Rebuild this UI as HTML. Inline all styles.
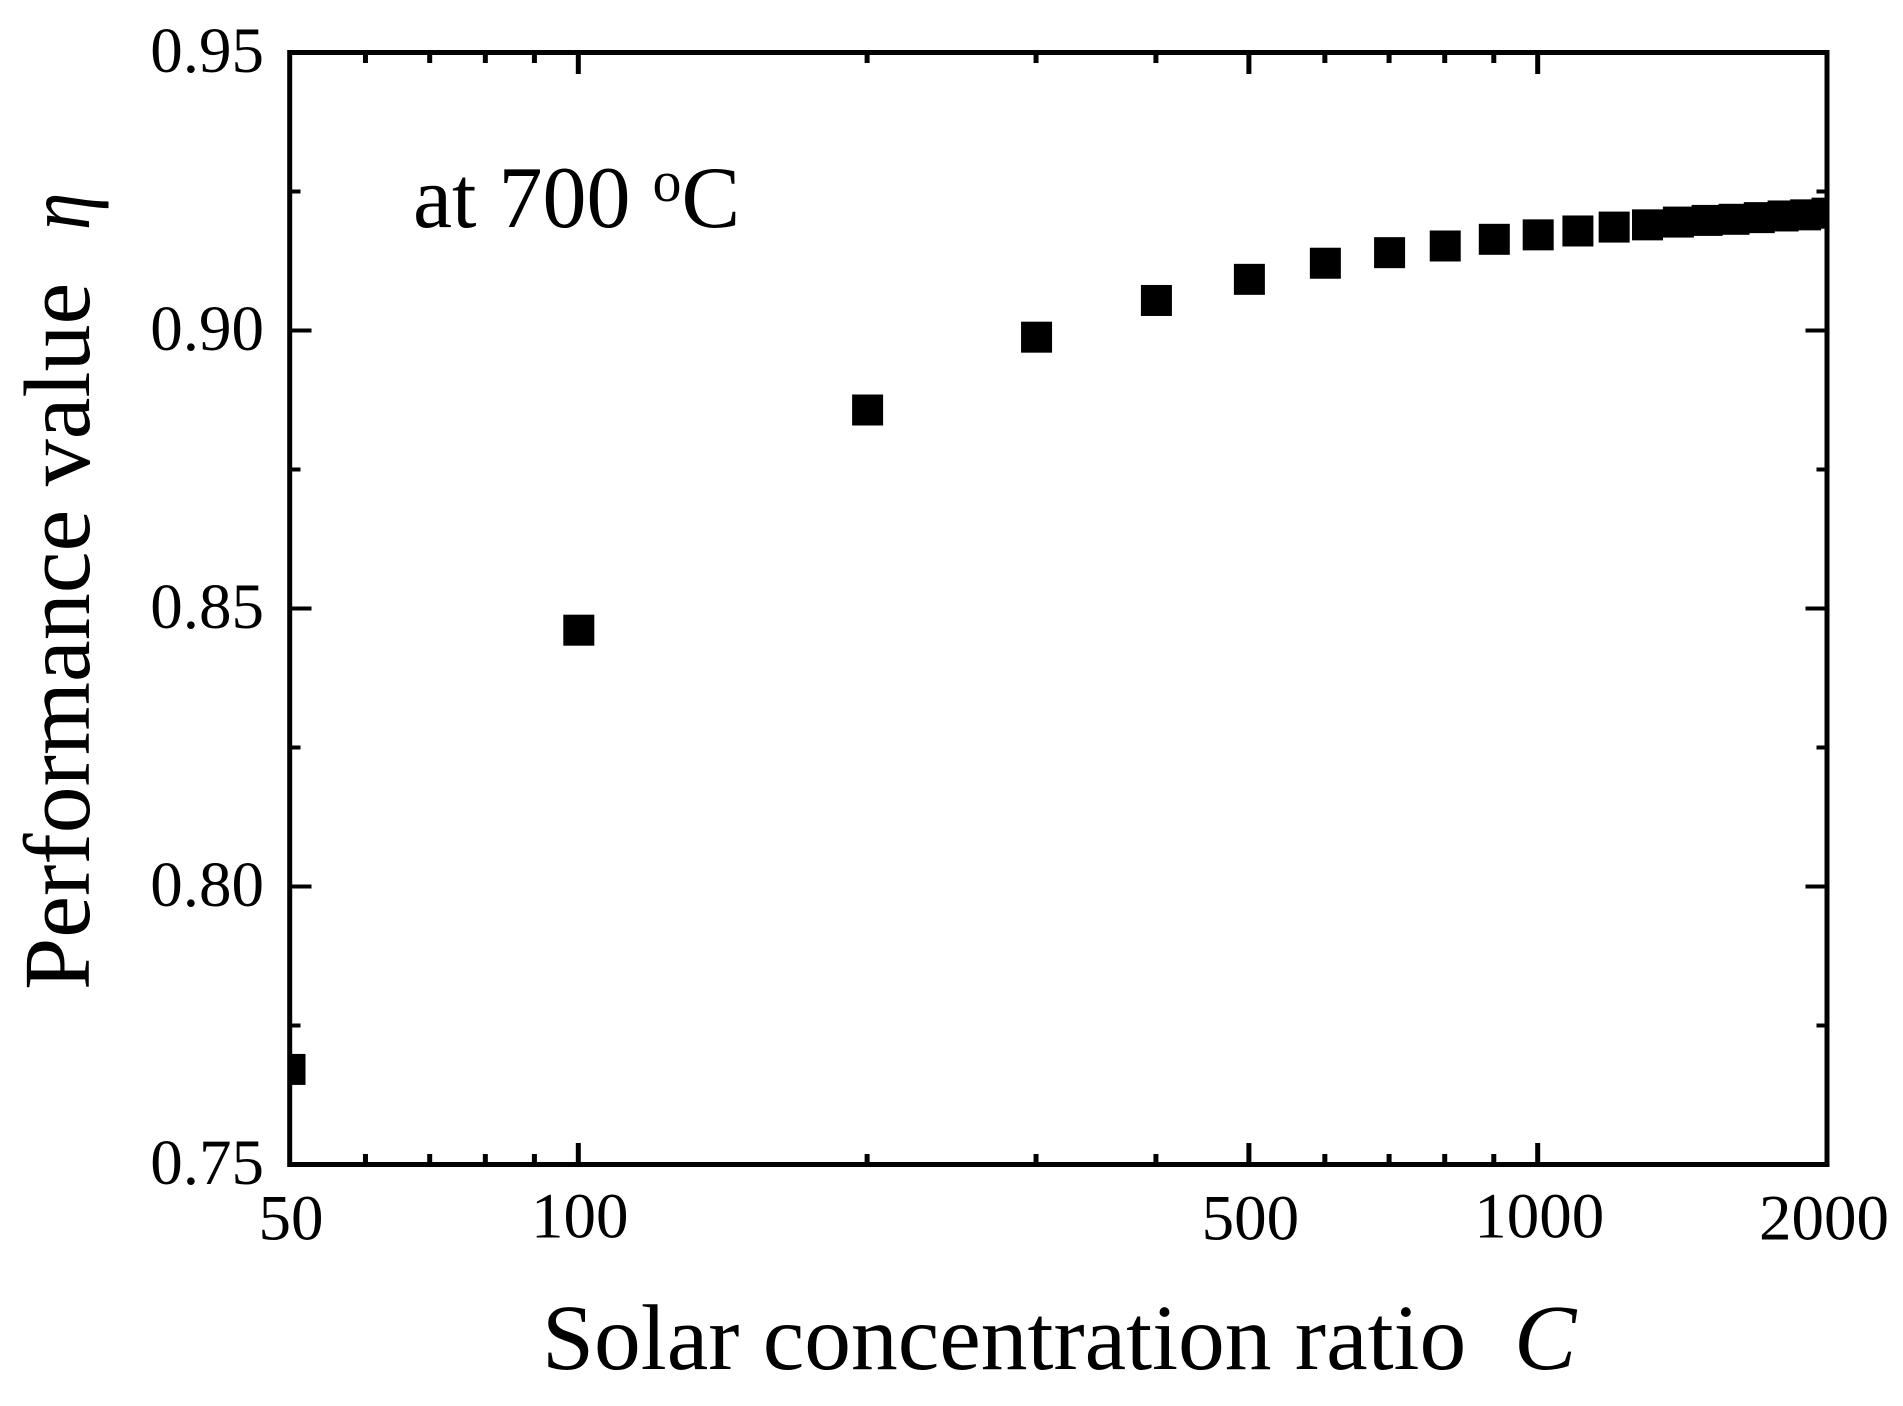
<!DOCTYPE html>
<html lang="en">
<head>
<meta charset="utf-8">
<title>Performance value vs solar concentration ratio</title>
<style>
html,body{margin:0;padding:0;background:#fff;}
svg{display:block;}
text{font-family:"Liberation Serif","Times New Roman",serif;fill:#000;}
</style>
</head>
<body>
<svg id="chart" xmlns="http://www.w3.org/2000/svg" width="1903" height="1406" viewBox="0 0 1903 1406">
  <defs>
    <clipPath id="plot-clip"><rect x="288" y="50" width="1541" height="1117"></rect></clipPath>
  </defs>
  <g id="ticks"></g>
  <g id="points" clip-path="url(#plot-clip)"></g>
  <rect x="289.7" y="52.5" width="1537.3" height="1112" fill="none" stroke="#000" stroke-width="5"></rect>
  <g id="labels"></g>
  <text x="413" y="227" font-size="88">at 700 <tspan font-size="58" dy="-26">o</tspan><tspan dy="26">C</tspan></text>
  <text x="542" y="1369" font-size="93.5" xml:space="preserve" style="white-space:pre">Solar concentration ratio  <tspan font-style="italic" dx="1">C</tspan></text>
  <text transform="translate(89,990) rotate(-90)" font-size="94" xml:space="preserve" style="white-space:pre">Performance value</text>
  <text transform="translate(89,230) rotate(-90) scale(0.8,0.97)" font-size="94" font-style="italic">η</text>
</svg>
<script>
var concentrationRatios = [50,100,200,300,400,500,600,700,800,900,1000,1100,1200,1300,1400,1500,1600,1700,1800,1900,2000];
var performanceValues = [0.7671,0.8461,0.8857,0.8988,0.9054,0.9092,0.9121,0.9140,0.9152,0.9164,0.9172,0.9179,0.9186,0.9190,0.9195,0.9198,0.9200,0.9203,0.9206,0.9208,0.9211];
var xMajorTicks = [50,100,500,1000,2000];
var xMinorTicks = [60,70,80,90,200,300,400,600,700,800,900];
var yMajorTicks = [0.75,0.80,0.85,0.90,0.95];
var yMinorTicks = [0.775,0.825,0.875,0.925];
var xTickLabels = ["50","100","500","1000","2000"];
var yTickLabels = ["0.75","0.80","0.85","0.90","0.95"];

var NS = 'http://www.w3.org/2000/svg';
var plotLeft = 290, plotRight = 1827, plotTop = 52.5, plotBottom = 1164.5;
var xMin = 50, xMax = 2000, yMin = 0.75, yMax = 0.95;
var markerSize = 31, majorLen = 21.5, minorLen = 10.5, xTickWidth = 5, yTickWidth = 4;

function xScale(v) {
  return plotLeft + (Math.log10(v) - Math.log10(xMin)) / (Math.log10(xMax) - Math.log10(xMin)) * (plotRight - plotLeft);
}
function yScale(v) {
  return plotBottom - (v - yMin) / (yMax - yMin) * (plotBottom - plotTop);
}
var ticksGroup = document.getElementById('ticks');
var pointsGroup = document.getElementById('points');
var labelsGroup = document.getElementById('labels');

function addLine(x1, y1, x2, y2, width, name) {
  var ln = document.createElementNS(NS, 'line');
  ln.setAttribute('x1', x1);
  ln.setAttribute('y1', y1);
  ln.setAttribute('x2', x2);
  ln.setAttribute('y2', y2);
  ln.setAttribute('stroke', '#000');
  ln.setAttribute('stroke-width', width);
  
  
  ticksGroup.appendChild(ln);
}
function addXTick(v, len, kind) {
  var x = xScale(v) - 0.5;
  addLine(x, plotBottom, x, plotBottom - len, xTickWidth, 'x-' + kind + '-tick-' + v);
  addLine(x, plotTop, x, plotTop + len, xTickWidth, 'x-top-' + kind + '-tick-' + v);
}
function addYTick(v, len, kind) {
  var y = yScale(v);
  addLine(plotLeft, y, plotLeft + len, y, yTickWidth, 'y-' + kind + '-tick-' + v);
  addLine(plotRight, y, plotRight - len, y, yTickWidth, 'y-right-' + kind + '-tick-' + v);
}
xMinorTicks.forEach(function (v) { addXTick(v, minorLen, 'minor'); });
yMinorTicks.forEach(function (v) { addYTick(v, minorLen, 'minor'); });
xMajorTicks.slice(1, -1).forEach(function (v) { addXTick(v, majorLen, 'major'); });
yMajorTicks.slice(1, -1).forEach(function (v) { addYTick(v, majorLen, 'major'); });

concentrationRatios.forEach(function (c, i) {
  var r = document.createElementNS(NS, 'rect');
  r.setAttribute('x', xScale(c) - markerSize / 2);
  r.setAttribute('y', yScale(performanceValues[i]) - markerSize / 2);
  r.setAttribute('width', markerSize);
  r.setAttribute('height', markerSize);
  r.setAttribute('fill', '#000');
  
  
  pointsGroup.appendChild(r);
});

xMajorTicks.forEach(function (v, i) {
  var t = document.createElementNS(NS, 'text');
  var isDecade = Number.isInteger(Math.log10(v));
  t.setAttribute('x', Math.min(xScale(v) + 1, plotRight - 3));
  t.setAttribute('y', isDecade ? 1237.5 : 1239.5);
  t.setAttribute('font-size', '65');
  t.setAttribute('text-anchor', 'middle');
  
  
  t.textContent = xTickLabels[i];
  labelsGroup.appendChild(t);
});
yMajorTicks.forEach(function (v, i) {
  var t = document.createElementNS(NS, 'text');
  t.setAttribute('x', 264);
  t.setAttribute('y', yScale(v) + 19.5);
  t.setAttribute('font-size', '65');
  t.setAttribute('text-anchor', 'end');
  
  
  t.textContent = yTickLabels[i];
  labelsGroup.appendChild(t);
});
</script>
</body>
</html>
